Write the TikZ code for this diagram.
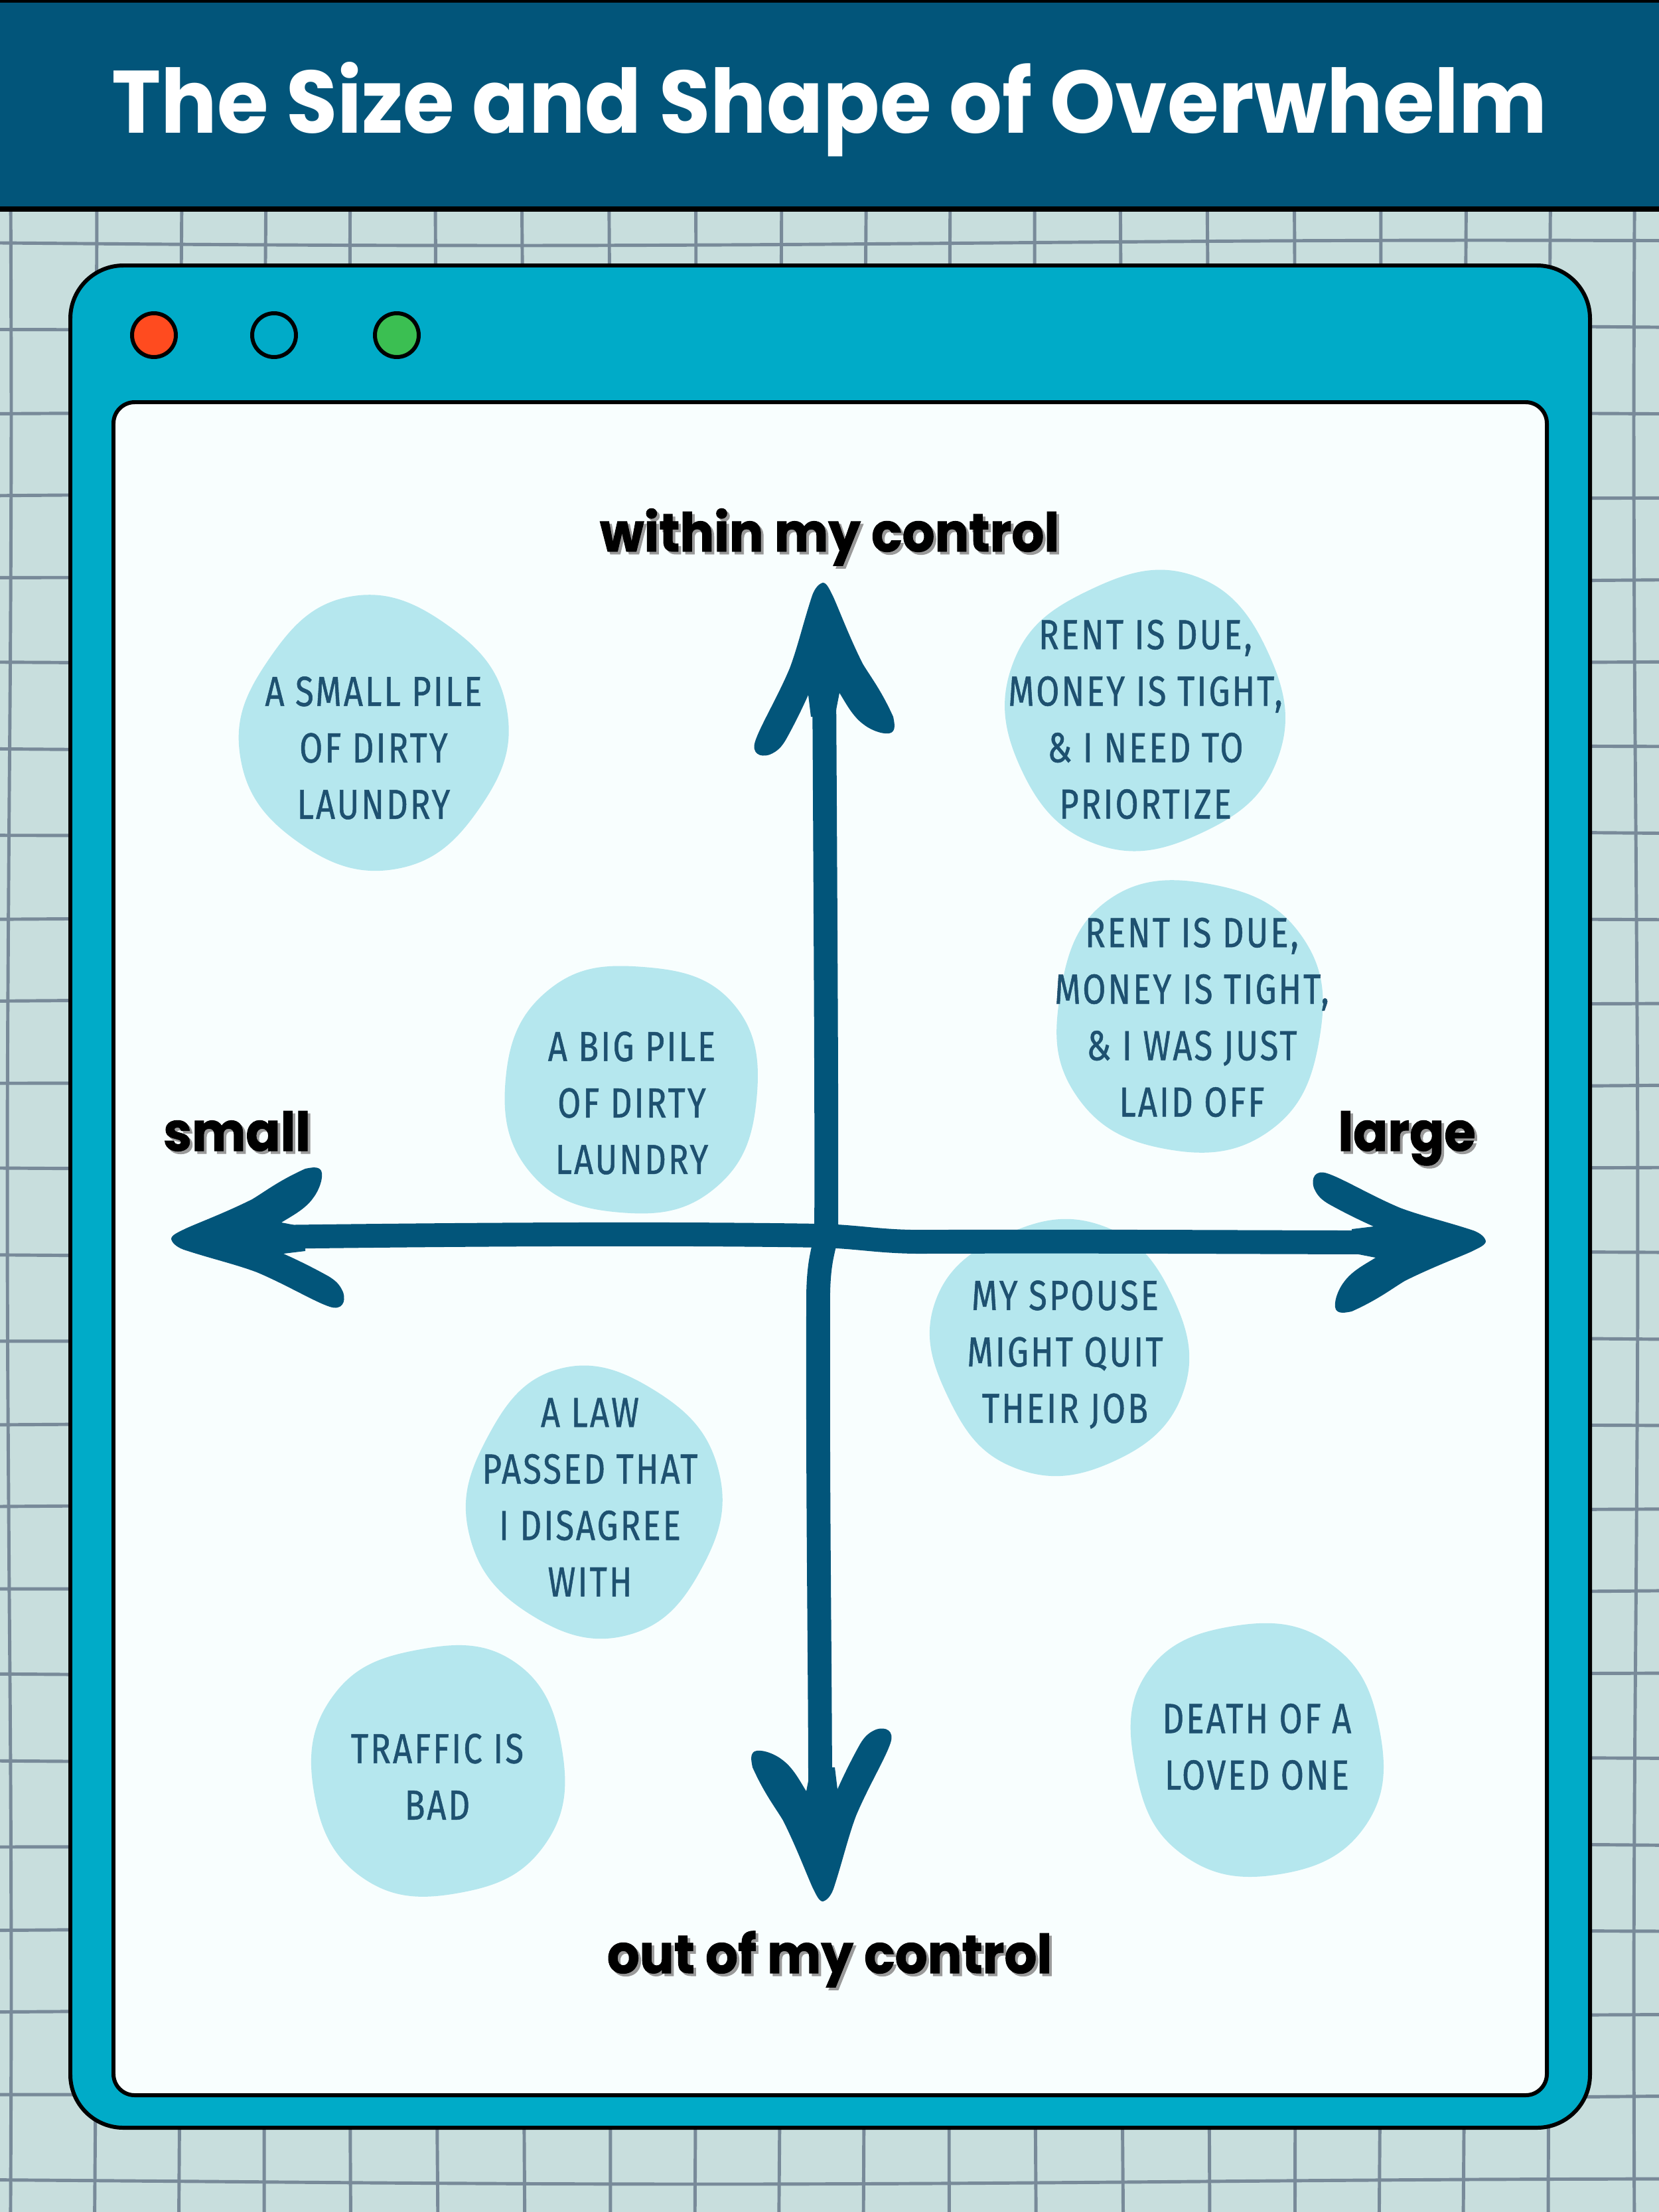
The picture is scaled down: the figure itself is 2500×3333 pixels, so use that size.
\documentclass[tikz,border=0pt]{standalone}
\usepackage{fontspec}
\newfontfamily\titlefont[FakeStretch=0.94]{Poppins}
\newfontfamily\axisfont[FakeStretch=0.95,FakeBold=1.2]{Poppins}
\newfontfamily\blobfont[FakeStretch=0.8,LetterSpace=5,FakeBold=0.8]{Fira Sans}
\definecolor{bgc}{HTML}{C8DEDD}
\definecolor{gridc}{HTML}{788A99}
\definecolor{hdr}{HTML}{02557A}
\definecolor{framec}{HTML}{00ABC8}
\definecolor{panelc}{HTML}{F8FEFE}
\definecolor{blobc}{HTML}{B5E7EE}
\definecolor{blobtxt}{HTML}{1E5170}
\definecolor{axisc}{HTML}{02557A}
\definecolor{dotred}{HTML}{FF4B1F}
\definecolor{dotgreen}{HTML}{3BBF52}
\definecolor{shadowc}{HTML}{9A9A9A}
\tikzset{
  gridline/.style={draw=gridc, line width=1.4pt},
  winborder/.style={draw=black, line width=1.7pt},
  dotstyle/.style={draw=black, line width=1.7pt},
  axisline/.style={draw=axisc, line width=10.2pt, line cap=round},
  blobtext/.style={font=\blobfont\fontsize{18}{24.2}\selectfont, text=blobtxt, align=center, inner sep=0pt},
  axislabel/.style={font=\axisfont\bfseries\fontsize{23}{28}\selectfont, inner sep=0pt, anchor=base},
  titlestyle/.style={font=\titlefont\bfseries\fontsize{38}{44}\selectfont, text=white, inner sep=0pt, anchor=base},
}
\newcommand\blobat[5]{%
  \fill[blobc, shift={(#1,#2)}, rotate=#5] plot[smooth cycle, tension=0.75] coordinates {
    (#3,0) ({0.96*#3*cos(45)},{0.96*#4*sin(45)}) (0,{1.02*#4})
    ({-0.98*#3*cos(45)},{0.98*#4*sin(45)}) ({-1.0*#3},0)
    ({-0.95*#3*cos(45)},{-0.95*#4*sin(45)}) (0,{-1.03*#4})
    ({0.97*#3*cos(45)},{-0.97*#4*sin(45)})};}
\newcommand\arrowheadat[2]{%
  \begin{scope}[shift={(#1)}, rotate=#2]
  \fill[axisc] (2,0)
    .. controls (0,-8) and (-10,-14) .. (-20,-17)
    .. controls (-60,-30) and (-95,-38) .. (-127,-50)
    .. controls (-170,-68) and (-215,-95) .. (-237,-102)
    .. controls (-255,-108) and (-262,-95) .. (-257,-80)
    .. controls (-252,-68) and (-245,-62) .. (-235,-56)
    .. controls (-210,-42) and (-185,-30) .. (-167,-22)
    -- (-200,-18) -- (-200,18) -- (-164,25)
    .. controls (-180,35) and (-200,45) .. (-212,62)
    .. controls (-222,75) and (-228,95) .. (-224,103)
    .. controls (-220,110) and (-210,108) .. (-200,106)
    .. controls (-160,88) and (-140,72) .. (-120,60)
    .. controls (-80,40) and (-40,25) .. (-20,16)
    .. controls (-8,10) and (2,6) .. (2,0) -- cycle;
  \end{scope}}
\newcommand\shadowlabel[4]{%
  \node[axislabel, text=shadowc] at ({#2+4},{#3+4}) {#4};
  \node[axislabel] (#1) at (#2,#3) {#4};}
\begin{document}
\begin{tikzpicture}[x=0.01cm, y=-0.01cm]
\useasboundingbox (0,0) rectangle (2500,3333);
% background
\fill[bgc] (0,0) rectangle (2500,3333);
\foreach \k in {0,...,19} {
  \draw[gridline] plot[smooth, domain=300:3333, samples=10, variable=\t] ({14+129*\k + 3*sin(0.15*\t + 47*\k)}, {\t});
}
\foreach \k in {0,...,23} {
  \draw[gridline] plot[smooth, domain=0:2500, samples=10, variable=\t] ({\t}, {366+127*\k + 4*sin(0.12*\t + 61*\k)});
}
% header
\fill[hdr] (0,0) rectangle (2500,315);
\draw[black, line width=2.2pt] (0,315) -- (2500,315);
\draw[black, line width=1.4pt] (0,2) -- (2500,2);
\node[titlestyle] (title) at (1250,200) {The Size and Shape of Overwhelm};
% window
\draw[winborder, fill=framec, rounded corners=80*0.01cm] (106,400) rectangle (2396,3206);
\draw[winborder, fill=panelc, rounded corners=32*0.01cm] (171,606) rectangle (2331,3157);
\draw[dotstyle, fill=dotred] (232,505) circle[radius=33];
\draw[dotstyle] (413,505) circle[radius=33];
\draw[dotstyle, fill=dotgreen] (598,505) circle[radius=33];
% blobs
\blobat{563}{1105}{204}{203}{10}
\blobat{1726}{1071}{212}{210}{-20}
\blobat{1792}{1531}{208}{207}{35}
\blobat{952}{1641}{195}{194}{-50}
\blobat{1597}{2030}{194}{194}{70}
\blobat{895}{2264}{194}{202}{15}
\blobat{661}{2668}{195}{194}{-35}
\blobat{1894}{2636}{194}{196}{55}
% axes
\coordinate (toptip) at (1240,880);
\coordinate (bottip) at (1240,2863);
\coordinate (lefttip) at (260,1867);
\coordinate (righttip) at (2237,1870);
\coordinate (tshaft) at (1242,1020);
\coordinate (bshaft) at (1236,2720);
\coordinate (lshaft) at (400,1864);
\coordinate (rshaft) at (2090,1872);
\draw[axisline] (lshaft) .. controls (700,1860) and (1000,1858) .. (1240,1862)
  .. controls (1300,1864) and (1330,1872) .. (1400,1871)
  .. controls (1700,1870) and (1900,1872) .. (rshaft);
\draw[axisline] (tshaft) .. controls (1244,1400) and (1246,1700) .. (1245,1855)
  .. controls (1244,1880) and (1234,1890) .. (1233,1950)
  .. controls (1232,2300) and (1236,2500) .. (bshaft);
\arrowheadat{toptip}{90}
\arrowheadat{bottip}{-90}
\arrowheadat{lefttip}{180}
\arrowheadat{righttip}{0}
% axis labels
\shadowlabel{within}{1250}{831}{within my control}
\shadowlabel{outof}{1250}{2973}{out of my control}
\shadowlabel{small}{357}{1734}{small}
\shadowlabel{large}{2120}{1734}{large}
% blob texts
\node[blobtext] (b1) at (563,1127) {A SMALL PILE\\OF DIRTY\\LAUNDRY};
\node[blobtext] (b2) at (1726,1084) {RENT IS DUE,\\MONEY IS TIGHT,\\\& I NEED TO\\PRIORTIZE};
\node[blobtext] (b3) at (1796,1533) {RENT IS DUE,\\MONEY IS TIGHT,\\\& I WAS JUST\\LAID OFF};
\node[blobtext] (b4) at (952,1662) {A BIG PILE\\OF DIRTY\\LAUNDRY};
\node[blobtext] (b5) at (1605,2041) {MY SPOUSE\\MIGHT QUIT\\THEIR JOB};
\node[blobtext] (b6) at (889,2256) {A LAW\\PASSED THAT\\I DISAGREE\\WITH};
\node[blobtext] (b7) at (659,2677) {TRAFFIC IS\\BAD};
\node[blobtext] (b8) at (1894,2632) {DEATH OF A\\LOVED ONE};
\end{tikzpicture}
\end{document}
